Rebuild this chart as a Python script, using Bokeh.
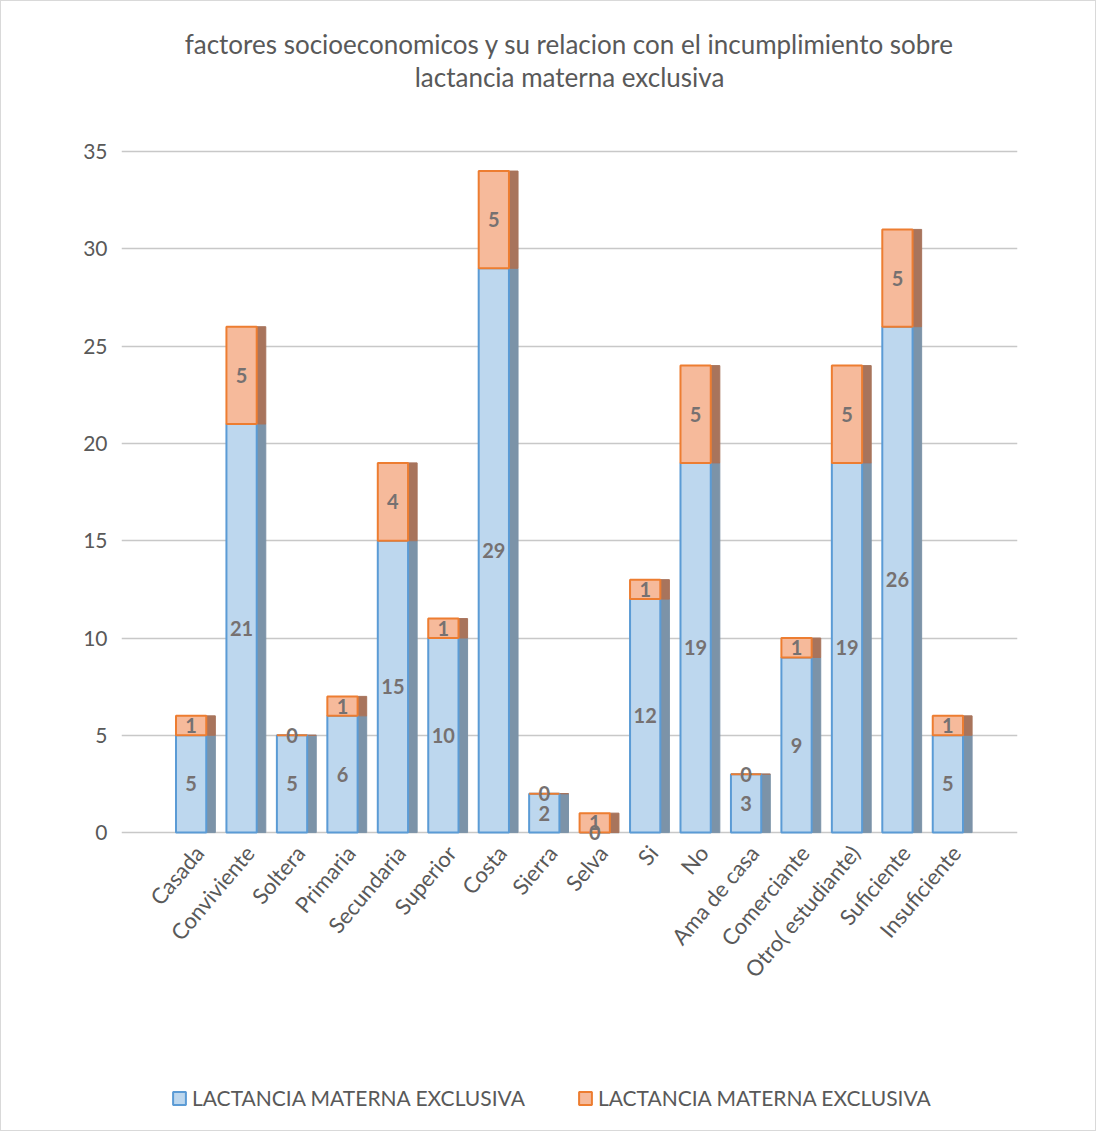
from bokeh.plotting import figure
from bokeh.models import (ColumnDataSource, FactorRange, Range1d, LabelSet, Label, Legend,
                          LegendItem, FixedTicker)
from bokeh.core.properties import value
from bokeh.transform import dodge
from bokeh.embed import file_html
from bokeh.resources import INLINE

# ---- data ----
categories = ["Casada", "Conviviente", "Soltera", "Primaria", "Secundaria", "Superior",
              "Costa", "Sierra", "Selva", "Si", "No", "Ama de casa", "Comerciante",
              "Otro( estudiante)", "Suficiente", "Insuficiente"]
serie_azul = [5, 21, 5, 6, 15, 10, 29, 2, 0, 12, 19, 3, 9, 19, 26, 5]
serie_naranja = [1, 5, 0, 1, 4, 1, 5, 0, 1, 1, 5, 0, 1, 5, 5, 1]
series_names = ["LACTANCIA MATERNA EXCLUSIVA", "LACTANCIA MATERNA EXCLUSIVA"]
title_lines = ["factores socioeconomicos y su relacion con el incumplimiento sobre",
               "lactancia materna exclusiva"]
y_ticks = [0, 5, 10, 15, 20, 25, 30, 35]

FONT = "Lato"
GRAY = "#595959"

top_azul = list(serie_azul)
top_naranja = [a + b for a, b in zip(serie_azul, serie_naranja)]
src = ColumnDataSource(dict(
    cat=categories,
    azul=serie_azul, naranja=serie_naranja,
    zero=[0] * len(categories),
    top_azul=top_azul, top_naranja=top_naranja,
    mid_azul=[a / 2 for a in serie_azul],
    mid_naranja=[a + b / 2 for a, b in zip(serie_azul, serie_naranja)],
))

# the frame spans the whole card; value axis shows 0..35 only
p = figure(width=1096, height=1131, x_range=FactorRange(*categories),
           y_range=Range1d(-14.9, 42.2), output_backend="svg", toolbar_location=None,
           min_border_left=120, min_border_right=80, min_border_top=10,
           min_border_bottom=10, title=None)
p.styles = {"border": "1px solid #D9D9D9"}
p.x_range.range_padding = 0.11

# title (two centred lines)
for txt, ty in zip(title_lines, (40.55, 38.85)):
    p.add_layout(Label(x=len(categories) / 2, y=ty, text=txt, text_align="center",
                       text_baseline="middle", text_font=FONT, text_font_size="26px",
                       text_color=GRAY))

# side faces (depth effect)
side_off = 0.39
p.vbar(x=dodge("cat", side_off, range=p.x_range), top="top_azul", bottom="zero",
       width=0.18, source=src, fill_color="#7C93A8", line_color="#7C93A8")
p.vbar(x=dodge("cat", side_off, range=p.x_range), top="top_naranja", bottom="top_azul",
       width=0.18, source=src, fill_color="#A8745C", line_color="#A8745C")

# front faces
r_azul = p.vbar(x="cat", top="top_azul", bottom="zero", width=0.6, source=src,
                fill_color="#BDD7EE", line_color="#5B9BD5", line_width=2)
r_naranja = p.vbar(x="cat", top="top_naranja", bottom="top_azul", width=0.6, source=src,
                   fill_color="#F6BA9B", line_color="#ED7D31", line_width=2)

# data labels
for ycol, tcol in (("mid_azul", "azul"), ("mid_naranja", "naranja")):
    p.add_layout(LabelSet(x="cat", y=ycol, text=tcol, source=src, text_align="center",
                          text_baseline="middle", text_font=value(FONT),
                          text_font_size=value("20px"),
                          text_font_style=value("bold"), text_color=value("#767171")))

# category labels (rotated, below the baseline)
p.add_layout(LabelSet(x="cat", y="zero", text="cat", source=src, angle=0.87,
                      text_align="right", text_baseline="middle", x_offset=8, y_offset=-16,
                      text_font=value(FONT), text_font_size=value("22px"),
                      text_color=value(GRAY)))

# axes & grid
p.xaxis.visible = False
p.yaxis.ticker = FixedTicker(ticks=y_ticks)
p.yaxis.axis_line_color = None
p.yaxis.major_tick_line_color = None
p.yaxis.minor_tick_line_color = None
p.yaxis.major_label_standoff = 8
p.yaxis.major_label_text_font = FONT
p.yaxis.major_label_text_font_size = "21px"
p.yaxis.major_label_text_color = GRAY

p.xgrid.grid_line_color = None
p.ygrid.ticker = FixedTicker(ticks=y_ticks)
p.ygrid.grid_line_color = "#C8C8C8"
p.ygrid.grid_line_width = 1.5
p.outline_line_color = None

legend = Legend(items=[LegendItem(label=series_names[0], renderers=[r_azul]),
                       LegendItem(label=series_names[1], renderers=[r_naranja])],
                orientation="horizontal", location=(50, 12), padding=6,
                label_text_font=FONT, label_text_font_size="21px", label_text_color=GRAY,
                glyph_width=16, glyph_height=16, spacing=52, border_line_color=None,
                background_fill_alpha=0, margin=0)
p.add_layout(legend, "center")

open("out.html", "w").write(file_html(p, INLINE))
